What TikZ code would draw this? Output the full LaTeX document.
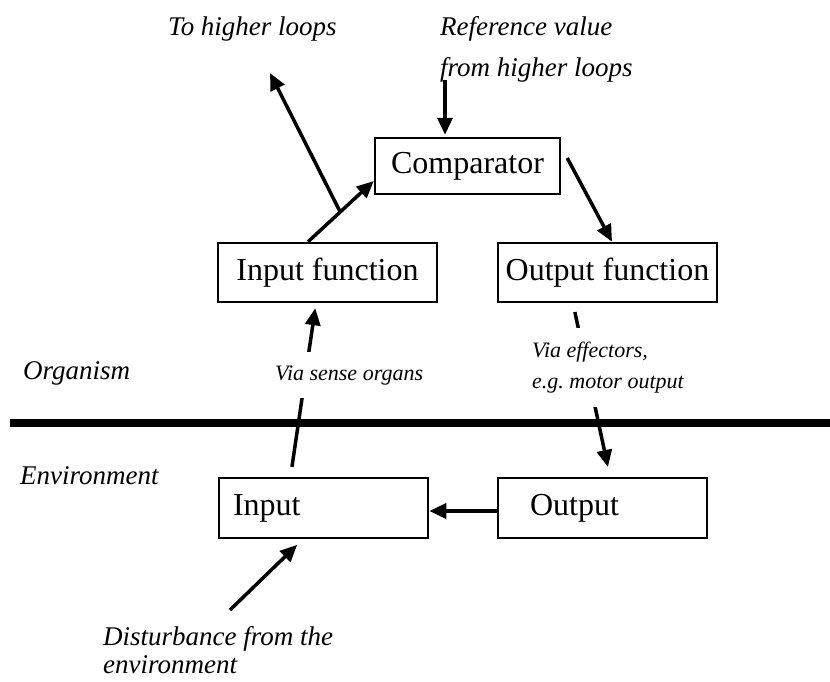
\documentclass[tikz,border=0pt]{standalone}
\usepackage{fontspec}
\setmainfont{Liberation Serif}
\usetikzlibrary{arrows.meta,calc}
\begin{document}
\begin{tikzpicture}[x=1pt,y=-1pt,
  box/.style={draw, line width=2.5pt, inner sep=0pt, font=\fontsize{32}{36}\selectfont},
  arr/.style={line width=3.5pt, -{Triangle[length=17pt,width=15pt]}},
  lbl/.style={font=\fontsize{27}{28}\selectfont\itshape, inner sep=0pt},
  smalllbl/.style={font=\fontsize{22}{31}\selectfont\itshape, fill=white, inner xsep=2pt}]
\useasboundingbox (0,0) rectangle (830,681);
% boxes
\node[box, minimum width=185pt, minimum height=56pt] (comp) at (467.5,166) {Comparator};
\node[box, minimum width=219pt, minimum height=59pt] (infn) at (327.5,272.5) {Input function};
\node[box, minimum width=219pt, minimum height=59pt] (outfn) at (607.5,272.5) {Output function};
\node[box, minimum height=60pt, text width=181pt, inner xsep=14pt, align=left] (inp) at (323.5,508) {Input};
\node[box, minimum height=60pt, text width=145pt, inner xsep=32pt, align=left] (out) at (602.5,508) {Output};
% free texts
\node[lbl, anchor=base west] (tohigher) at (168,35) {To higher loops};
\node[lbl, anchor=north west, align=left, font=\fontsize{27}{41}\selectfont\itshape] (ref) at (440,16.4) {Reference value\\from higher loops};
\node[lbl, anchor=base west] (org) at (23,379) {Organism};
\node[lbl, anchor=base west] (env) at (20,484) {Environment};
\node[lbl, anchor=north west, align=left] (dist) at (103,626.4) {Disturbance from the\\environment};
% separator
\draw[line width=8pt] (10,423) -- (830,423);
% coordinates for free ends
\coordinate (refstart) at (445,80);
\coordinate (uptip) at (270,73);
\coordinate (diststart) at (230,610);
\coordinate (ifo) at ([xshift=-19.5pt]infn.north);
\coordinate (ctip) at ([yshift=-15pt]comp.west);
\coordinate (br) at ($(ifo)!0.49!(ctip)$);
% connectors
\draw[arr, shorten >=2pt] (refstart) -- (refstart |- comp.north);
\draw[arr] (ifo) -- (ctip);
\draw[arr] (br) -- (uptip);
\draw[arr] ([shift={(6,-8)}]comp.east) -- ([xshift=4.5pt]outfn.north);
\draw[arr, shorten <=9pt, shorten >=10pt] ([xshift=-34.5pt]outfn.south) -- ([xshift=7.5pt]out.north);
\draw[arr, shorten <=10pt, shorten >=5pt] ([xshift=-33pt]inp.north) -- ([xshift=-11.5pt]infn.south);
\draw[arr] ([yshift=-3pt]out.west) -- ([yshift=-3pt]inp.east);
\draw[arr, shorten >=8pt] (diststart) -- ([xshift=-20.6pt]inp.south);
% labels on connectors
\node[smalllbl, anchor=base west, inner ysep=13pt] (sense) at (273,380) {Via sense organs};
\node[smalllbl, anchor=north west, align=left, inner ysep=14pt] (eff) at (530,327.8) {Via effectors,\\e.g.\ motor output};
\end{tikzpicture}
\end{document}
